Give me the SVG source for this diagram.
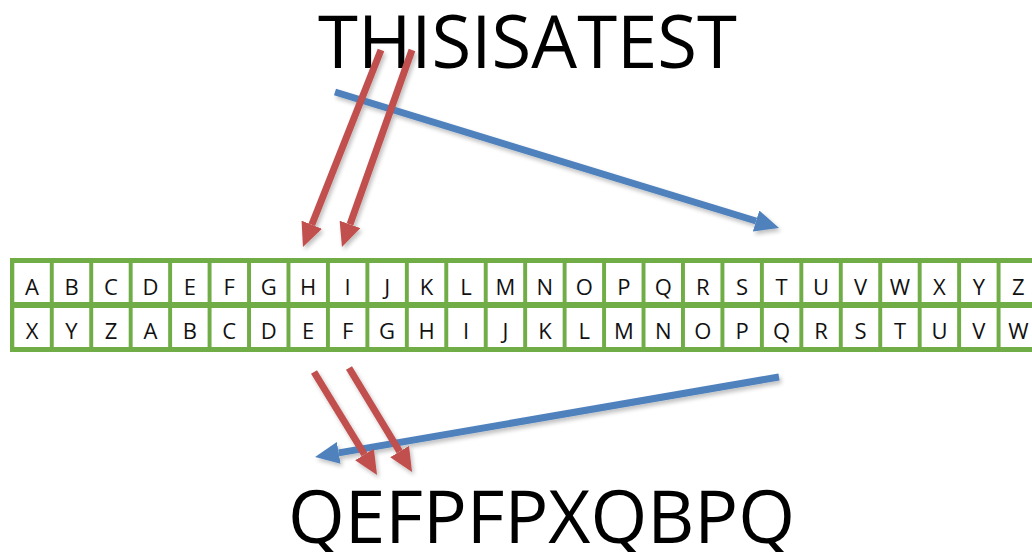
<svg xmlns="http://www.w3.org/2000/svg" width="1032" height="552" viewBox="0 0 1032 552">
<style>
.big{font-family:"Open Sans","Liberation Sans",sans-serif;font-size:74px;fill:#000}
.cell rect{fill:#fff}
.cell text{font-family:"Open Sans","Liberation Sans",sans-serif;font-size:22px;fill:#111;text-anchor:middle}
.red{stroke:#C0504D;stroke-width:7;fill:none}
.blue{stroke:#4F81BD;stroke-width:7;fill:none}
</style>
<defs>
<filter id="sh" x="-20%" y="-20%" width="140%" height="140%">
<feGaussianBlur in="SourceAlpha" stdDeviation="2"/>
<feOffset dx="2" dy="3" result="b"/>
<feComponentTransfer><feFuncA type="linear" slope="0.25"/></feComponentTransfer>
<feMerge><feMergeNode/><feMergeNode in="SourceGraphic"/></feMerge>
</filter>
<marker id="hr" viewBox="0 0 24 22" refX="0" refY="11" markerWidth="24" markerHeight="22" markerUnits="userSpaceOnUse" orient="auto"><path d="M0,0 L24,11 L0,22 z" fill="#C0504D"/></marker>
<marker id="hb" viewBox="0 0 24 22" refX="0" refY="11" markerWidth="24" markerHeight="22" markerUnits="userSpaceOnUse" orient="auto"><path d="M0,0 L24,11 L0,22 z" fill="#4F81BD"/></marker>
</defs>
<rect width="1032" height="552" fill="#fff"/>
<g id="plaintext"><text class="big" x="318" y="68" textLength="419" lengthAdjust="spacingAndGlyphs">THISISATEST</text></g>
<g id="ciphertext"><text class="big" x="288" y="543" textLength="507" lengthAdjust="spacingAndGlyphs">QEFPFPXQBPQ</text></g>
<g id="table">
<rect x="10" y="258" width="1030" height="94" fill="#70AD47"/>
<g id="row1">
<g class="cell" id="r1-A"><rect x="14.3" y="263" width="35.5" height="39"/><text x="32.05" y="294.5">A</text></g>
<g class="cell" id="r1-B"><rect x="53.75" y="263" width="35.5" height="39"/><text x="71.5" y="294.5">B</text></g>
<g class="cell" id="r1-C"><rect x="93.2" y="263" width="35.5" height="39"/><text x="110.95" y="294.5">C</text></g>
<g class="cell" id="r1-D"><rect x="132.65" y="263" width="35.5" height="39"/><text x="150.4" y="294.5">D</text></g>
<g class="cell" id="r1-E"><rect x="172.1" y="263" width="35.5" height="39"/><text x="189.85" y="294.5">E</text></g>
<g class="cell" id="r1-F"><rect x="211.55" y="263" width="35.5" height="39"/><text x="229.3" y="294.5">F</text></g>
<g class="cell" id="r1-G"><rect x="251" y="263" width="35.5" height="39"/><text x="268.75" y="294.5">G</text></g>
<g class="cell" id="r1-H"><rect x="290.45" y="263" width="35.5" height="39"/><text x="308.2" y="294.5">H</text></g>
<g class="cell" id="r1-I"><rect x="329.9" y="263" width="35.5" height="39"/><text x="347.65" y="294.5">I</text></g>
<g class="cell" id="r1-J"><rect x="369.35" y="263" width="35.5" height="39"/><text x="387.1" y="294.5">J</text></g>
<g class="cell" id="r1-K"><rect x="408.8" y="263" width="35.5" height="39"/><text x="426.55" y="294.5">K</text></g>
<g class="cell" id="r1-L"><rect x="448.25" y="263" width="35.5" height="39"/><text x="466" y="294.5">L</text></g>
<g class="cell" id="r1-M"><rect x="487.7" y="263" width="35.5" height="39"/><text x="505.45" y="294.5">M</text></g>
<g class="cell" id="r1-N"><rect x="527.15" y="263" width="35.5" height="39"/><text x="544.9" y="294.5">N</text></g>
<g class="cell" id="r1-O"><rect x="566.6" y="263" width="35.5" height="39"/><text x="584.35" y="294.5">O</text></g>
<g class="cell" id="r1-P"><rect x="606.05" y="263" width="35.5" height="39"/><text x="623.8" y="294.5">P</text></g>
<g class="cell" id="r1-Q"><rect x="645.5" y="263" width="35.5" height="39"/><text x="663.25" y="294.5">Q</text></g>
<g class="cell" id="r1-R"><rect x="684.95" y="263" width="35.5" height="39"/><text x="702.7" y="294.5">R</text></g>
<g class="cell" id="r1-S"><rect x="724.4" y="263" width="35.5" height="39"/><text x="742.15" y="294.5">S</text></g>
<g class="cell" id="r1-T"><rect x="763.85" y="263" width="35.5" height="39"/><text x="781.6" y="294.5">T</text></g>
<g class="cell" id="r1-U"><rect x="803.3" y="263" width="35.5" height="39"/><text x="821.05" y="294.5">U</text></g>
<g class="cell" id="r1-V"><rect x="842.75" y="263" width="35.5" height="39"/><text x="860.5" y="294.5">V</text></g>
<g class="cell" id="r1-W"><rect x="882.2" y="263" width="35.5" height="39"/><text x="899.95" y="294.5">W</text></g>
<g class="cell" id="r1-X"><rect x="921.65" y="263" width="35.5" height="39"/><text x="939.4" y="294.5">X</text></g>
<g class="cell" id="r1-Y"><rect x="961.1" y="263" width="35.5" height="39"/><text x="978.85" y="294.5">Y</text></g>
<g class="cell" id="r1-Z"><rect x="1000.55" y="263" width="35.5" height="39"/><text x="1018.3" y="294.5">Z</text></g>
</g>
<g id="row2">
<g class="cell" id="r2-X"><rect x="14.3" y="308" width="35.5" height="39"/><text x="32.05" y="339">X</text></g>
<g class="cell" id="r2-Y"><rect x="53.75" y="308" width="35.5" height="39"/><text x="71.5" y="339">Y</text></g>
<g class="cell" id="r2-Z"><rect x="93.2" y="308" width="35.5" height="39"/><text x="110.95" y="339">Z</text></g>
<g class="cell" id="r2-A"><rect x="132.65" y="308" width="35.5" height="39"/><text x="150.4" y="339">A</text></g>
<g class="cell" id="r2-B"><rect x="172.1" y="308" width="35.5" height="39"/><text x="189.85" y="339">B</text></g>
<g class="cell" id="r2-C"><rect x="211.55" y="308" width="35.5" height="39"/><text x="229.3" y="339">C</text></g>
<g class="cell" id="r2-D"><rect x="251" y="308" width="35.5" height="39"/><text x="268.75" y="339">D</text></g>
<g class="cell" id="r2-E"><rect x="290.45" y="308" width="35.5" height="39"/><text x="308.2" y="339">E</text></g>
<g class="cell" id="r2-F"><rect x="329.9" y="308" width="35.5" height="39"/><text x="347.65" y="339">F</text></g>
<g class="cell" id="r2-G"><rect x="369.35" y="308" width="35.5" height="39"/><text x="387.1" y="339">G</text></g>
<g class="cell" id="r2-H"><rect x="408.8" y="308" width="35.5" height="39"/><text x="426.55" y="339">H</text></g>
<g class="cell" id="r2-I"><rect x="448.25" y="308" width="35.5" height="39"/><text x="466" y="339">I</text></g>
<g class="cell" id="r2-J"><rect x="487.7" y="308" width="35.5" height="39"/><text x="505.45" y="339">J</text></g>
<g class="cell" id="r2-K"><rect x="527.15" y="308" width="35.5" height="39"/><text x="544.9" y="339">K</text></g>
<g class="cell" id="r2-L"><rect x="566.6" y="308" width="35.5" height="39"/><text x="584.35" y="339">L</text></g>
<g class="cell" id="r2-M"><rect x="606.05" y="308" width="35.5" height="39"/><text x="623.8" y="339">M</text></g>
<g class="cell" id="r2-N"><rect x="645.5" y="308" width="35.5" height="39"/><text x="663.25" y="339">N</text></g>
<g class="cell" id="r2-O"><rect x="684.95" y="308" width="35.5" height="39"/><text x="702.7" y="339">O</text></g>
<g class="cell" id="r2-P"><rect x="724.4" y="308" width="35.5" height="39"/><text x="742.15" y="339">P</text></g>
<g class="cell" id="r2-Q"><rect x="763.85" y="308" width="35.5" height="39"/><text x="781.6" y="339">Q</text></g>
<g class="cell" id="r2-R"><rect x="803.3" y="308" width="35.5" height="39"/><text x="821.05" y="339">R</text></g>
<g class="cell" id="r2-S"><rect x="842.75" y="308" width="35.5" height="39"/><text x="860.5" y="339">S</text></g>
<g class="cell" id="r2-T"><rect x="882.2" y="308" width="35.5" height="39"/><text x="899.95" y="339">T</text></g>
<g class="cell" id="r2-U"><rect x="921.65" y="308" width="35.5" height="39"/><text x="939.4" y="339">U</text></g>
<g class="cell" id="r2-V"><rect x="961.1" y="308" width="35.5" height="39"/><text x="978.85" y="339">V</text></g>
<g class="cell" id="r2-W"><rect x="1000.55" y="308" width="35.5" height="39"/><text x="1018.3" y="339">W</text></g>
</g>
</g>
<g id="connectors" filter="url(#sh)">
<path class="blue" d="M335,92 L756.1,221" marker-end="url(#hb)"/>
<path class="blue" d="M779,377 L338.7,452.9" marker-end="url(#hb)"/>
<path class="red" d="M381,50 L311.8,224.7" marker-end="url(#hr)"/>
<path class="red" d="M412,50 L350,224.4" marker-end="url(#hr)"/>
<path class="red" d="M314,372 L364.5,454.5" marker-end="url(#hr)"/>
<path class="red" d="M349,368 L399.6,451.5" marker-end="url(#hr)"/>
</g>
</svg>
